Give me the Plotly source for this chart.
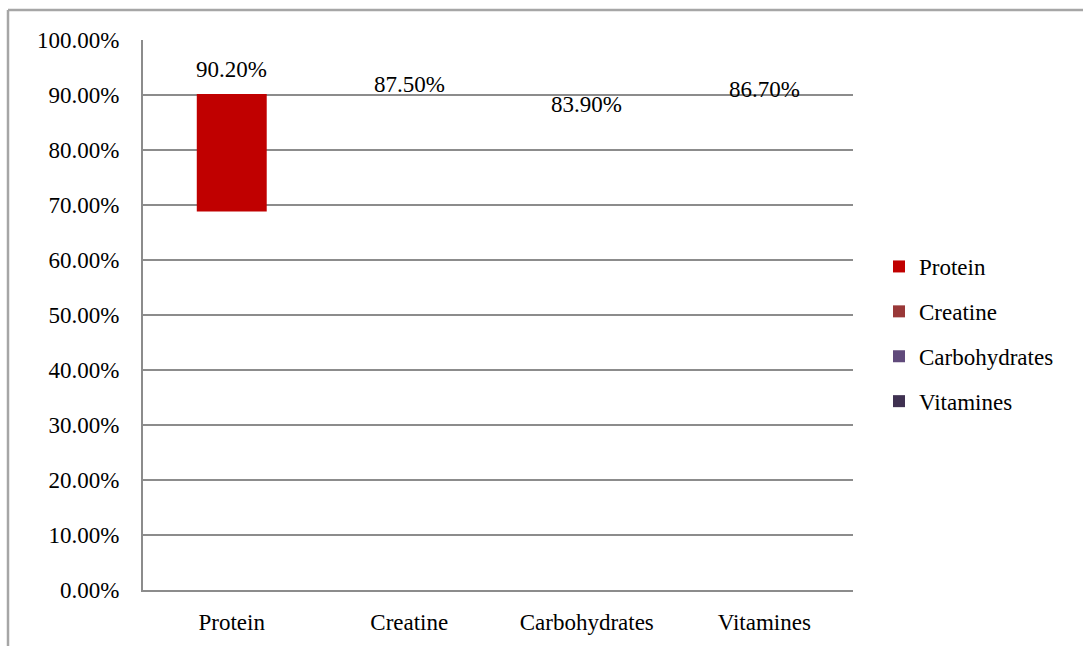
import plotly.graph_objects as go

categories = ["Protein", "Creatine", "Carbohydrates", "Vitamines"]
values = [90.2, 87.5, 83.9, 86.7]
# only the Protein bar is visible in the original; the others have zero height
bar_bottoms = [68.8, 87.5, 83.9, 86.7]
colors = ["#C00000", "#993838", "#604A7B", "#3F3151"]
y_ticks = [0, 10, 20, 30, 40, 50, 60, 70, 80, 90, 100]
y_tick_labels = [f"{t:.2f}%" for t in y_ticks]

FONT = "Liberation Serif, Times New Roman, serif"
FS = 23
W, H = 1083, 646
L, R, T, B = 143, 230, 40, 56
pw, ph = W - L - R, H - T - B

fig = go.Figure()
for cat, v, b, c in zip(categories, values, bar_bottoms, colors):
    fig.add_trace(go.Bar(
        x=[cat], y=[v - b], base=[b], name=cat,
        marker=dict(color=c, line=dict(width=0)),
        width=0.394, legendgroup=cat,
    ))
    fig.add_annotation(x=cat, y=v, text=f"{v:.2f}%", showarrow=False,
                       yshift=24, font=dict(family=FONT, size=FS, color="black"))

gray = "#8c8c8c"
fig.update_layout(
    width=W, height=H,
    margin=dict(l=L, r=R, t=T, b=B, autoexpand=False),
    paper_bgcolor="white", plot_bgcolor="white",
    barmode="overlay",
    font=dict(family=FONT, size=FS, color="black"),
    showlegend=True,
    legend=dict(x=(879 - L) / pw, y=(H - B - 334) / ph, xanchor="left", yanchor="middle",
                tracegroupgap=12, font=dict(family=FONT, size=FS, color="black"),
                bgcolor="rgba(0,0,0,0)", itemwidth=30),
    xaxis=dict(categoryorder="array", categoryarray=categories, showgrid=False,
               showline=True, linecolor=gray, linewidth=2, ticks="", automargin=False,
               ticklabelstandoff=10, tickfont=dict(family=FONT, size=FS)),
    yaxis=dict(range=[0, 100], tickvals=y_ticks, ticktext=y_tick_labels,
               showgrid=True, gridcolor=gray, gridwidth=1.5, automargin=False,
               showline=True, linecolor=gray, linewidth=2, zeroline=False,
               ticks="", ticklabelstandoff=17, tickfont=dict(family=FONT, size=FS)),
)

# outer chart border (left and top edges)
bx = (8 - L) / pw
by = (H - B - 10) / ph
fig.add_shape(type="line", xref="paper", yref="paper", x0=bx, x1=bx, y0=by, y1=-0.2,
              line=dict(color="#a6a6a6", width=2.5))
fig.add_shape(type="line", xref="paper", yref="paper", x0=bx, x1=2, y0=by, y1=by,
              line=dict(color="#a6a6a6", width=2.5))

fig.write_html("out.html")
